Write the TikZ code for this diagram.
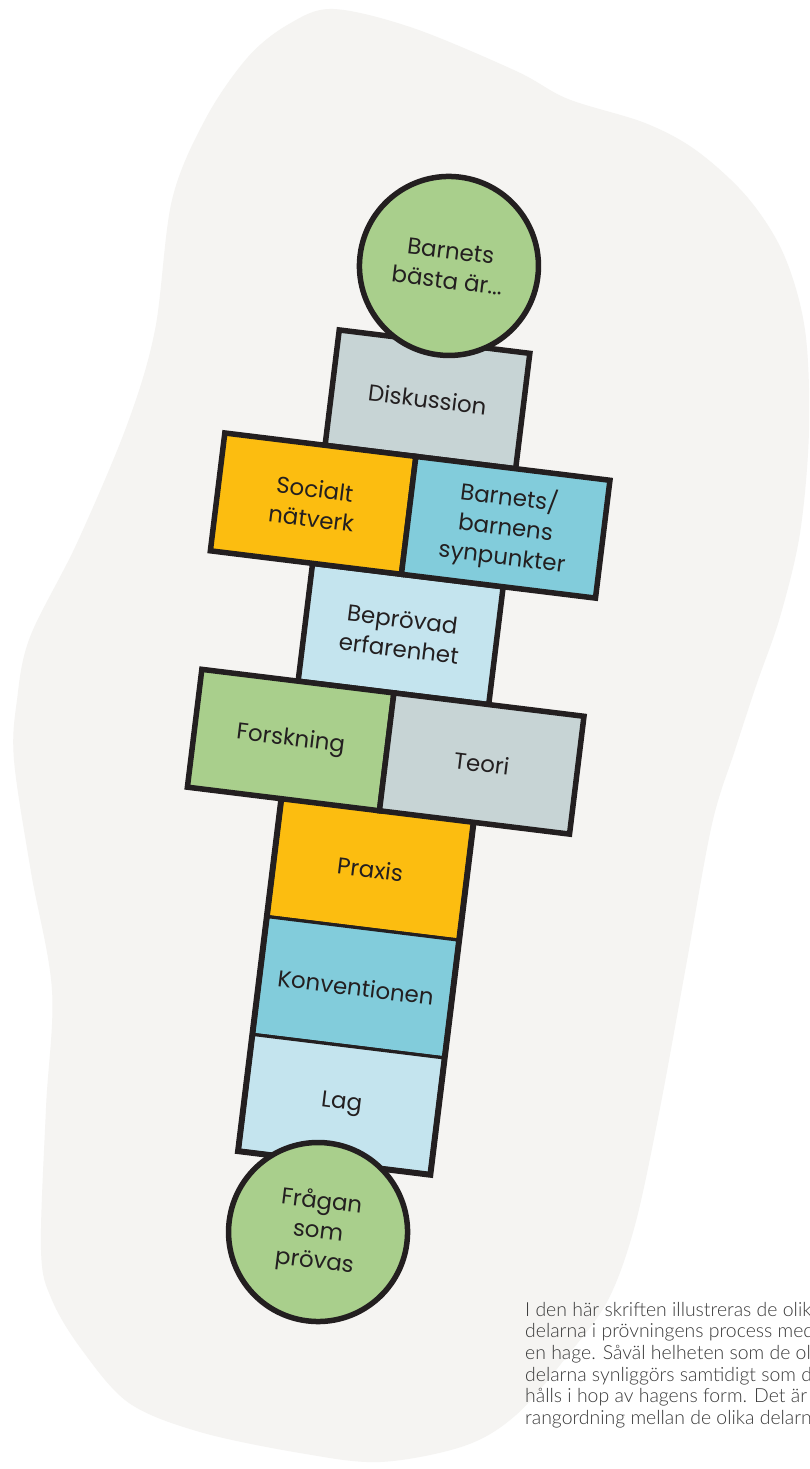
\documentclass[tikz,border=0pt]{standalone}
\usepackage{fontspec}
\newfontfamily\handfont{Poppins}
\newfontfamily\capfont{Lato Light}
\definecolor{blob}{HTML}{F5F4F2}
\definecolor{ink}{HTML}{231F20}
\definecolor{leaf}{HTML}{A9CF8C}
\definecolor{stone}{HTML}{C7D4D5}
\definecolor{sun}{HTML}{FCBD10}
\definecolor{sea}{HTML}{82CCDB}
\definecolor{sky}{HTML}{C4E4EE}
\definecolor{captext}{HTML}{3A3A3A}
\begin{document}
\begin{tikzpicture}[x=1bp,y=1bp,
  box/.style={rectangle, draw=ink, line width=5.5bp, text=ink, align=center,
    font=\handfont\fontsize{23}{30}\selectfont, inner sep=0pt, minimum height=118.7bp},
  thinbox/.style={box, line width=3.2bp},
  disc/.style={circle, draw=ink, line width=5.5bp, fill=leaf, minimum size=179bp,
    inner sep=0pt, text=ink, align=center, font=\handfont\fontsize{23}{30}\selectfont},
  outline/.style={draw=ink, line width=5.5bp, line join=miter}
]
\useasboundingbox (0,0) rectangle (809,-1469);
\clip (0,0) rectangle (809,-1469);
\fill[white] (0,0) rectangle (809,-1469);
% background blob
\fill[blob] plot[smooth cycle, tension=0.55] coordinates {
 (333,-9) (413,-28) (516,-71) (568,-99) (645,-123) (697,-151) (748,-198) (784,-255)
 (805,-330) (809,-430) (800,-533) (780,-617) (757,-683) (735,-750) (712,-824)
 (686,-966) (660,-1108) (635,-1225) (608,-1300) (568,-1355) (516,-1415) (464,-1446)
 (380,-1462) (300,-1453) (200,-1432) (129,-1403) (82,-1350) (52,-1300) (41,-1250)
 (46,-1108) (52,-990) (31,-872) (14,-760) (17,-700) (30,-637) (77,-543) (127,-425)
 (155,-330) (172,-200) (206,-118) (248,-57) (289,-24)};
% caption
\node[anchor=north west, align=left, text=captext, inner sep=0pt,
  font=\capfont\fontsize{19.5}{21.7}\selectfont] (caption) at (525,-1302)
  {I den här skriften illustreras de olika\\
   delarna i prövningens process med\\
   en hage. Såväl helheten som de olika\\
   delarna synliggörs samtidigt som de\\
   hålls i hop av hagens form. Det är ingen\\
   rangordning mellan de olika delarna.};
\begin{scope}[shift={(400,-750)}, rotate=-7, transform shape]
  % single column boxes
  \node[box, fill=stone, minimum width=192bp, minimum height=116.2bp] (disk) at (-15.5,351.4) {Diskussion};
  \node[box, fill=sky, minimum width=192bp] (bepr) at (-13.5,115.25) {Beprövad\\erfarenhet};
  \node[thinbox, fill=sun, minimum width=191bp] (praxis) at (-15,-122.15) {Praxis};
  \node[thinbox, fill=sea, minimum width=191bp] (konv) at (-15,-240.85) {Konventionen};
  \node[thinbox, fill=sky, minimum width=191bp, minimum height=116.3bp] (lag) at (-15,-358.35) {Lag};
  \draw[outline] (praxis.north west) -- (praxis.north east) -- (lag.south east) -- (lag.south west) -- cycle;
  % wide rows
  \node[box, fill=sun, minimum width=192.5bp] (social) at (-116.25,233.95) {Socialt\\nätverk};
  \node[box, fill=sea, minimum width=195.5bp] (barn) at (77.75,233.95) {Barnets/\\barnens\\synpunkter};
  \node[box, fill=leaf, minimum width=193.5bp] (forsk) at (-109.75,-3.45) {Forskning};
  \node[box, fill=stone, minimum width=191.5bp] (teori) at (82.75,-3.45) {Teori};
  % circles
  \node[disc] (top) at (-10.4,486.4) {Barnets\\bästa är...};
  \node[disc] (bottom) at (-22.6,-488.4) {Frågan\\som\\prövas};
\end{scope}
\end{tikzpicture}
\end{document}
